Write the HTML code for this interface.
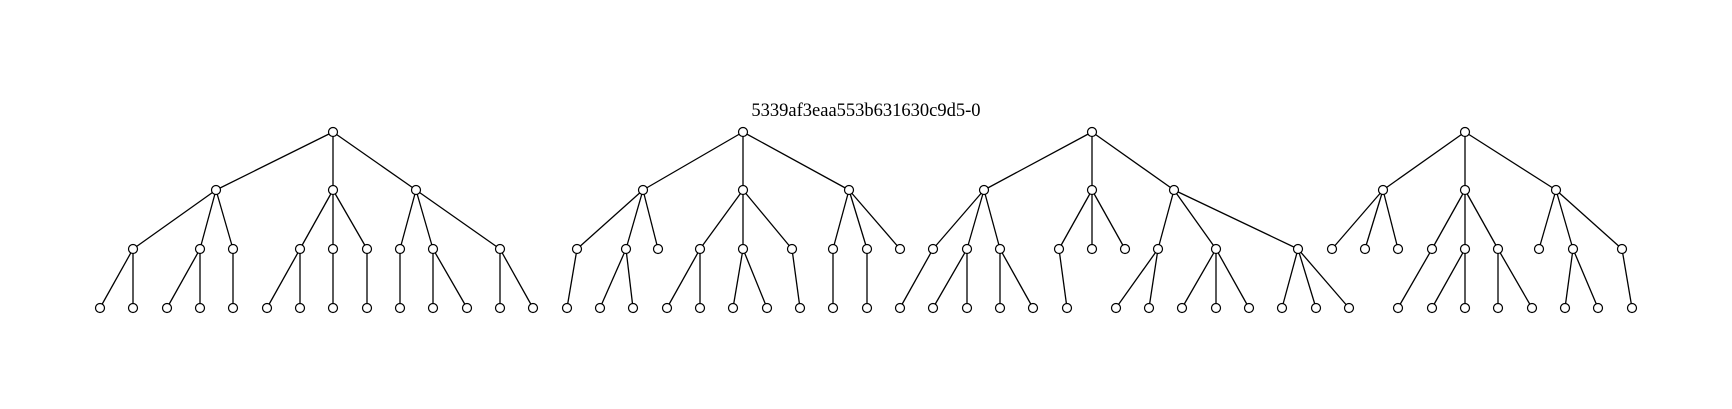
<!DOCTYPE html>
<html><head><meta charset="utf-8"><style>html,body{margin:0;padding:0;background:#fff;}svg{display:block}</style></head>
<body>
<svg id="s" width="1732" height="409" viewBox="0 0 1732 409" xmlns="http://www.w3.org/2000/svg">
<rect width="1732" height="409" fill="#fff"/>
<text x="866" y="116" text-anchor="middle" font-family="Liberation Serif, serif" font-size="18.5" fill="#000">5339af3eaa553b631630c9d5-0</text>
<g id="e" stroke="#000" stroke-width="1.3"></g>
<g id="n" stroke="#000" stroke-width="1.2" fill="#fff"></g>
</svg>
<script>
var Y=[132,190,249,308];
var T=[
 [333,[[216,[[133,[100,133]],[200,[167,200]],[233,[233]]]],[333,[[300,[267,300]],[333,[333]],[367,[367]]]],[416,[[400,[400]],[433,[433,467]],[500,[500,533]]]]]],
 [743,[[643,[[577,[567]],[626,[600,633]],[658,[]]]],[743,[[700,[667,700]],[743,[733,767]],[792,[800]]]],[849,[[833,[833]],[867,[867]],[900,[]]]]]],
 [1092,[[984,[[933,[900]],[967,[933,967]],[1000,[1000,1033]]]],[1092,[[1059,[1067]],[1092,[]],[1125,[]]]],[1174,[[1158,[1116,1149]],[1216,[1182,1216,1249]],[1298,[1282,1316,1349]]]]]],
 [1465,[[1383,[[1332,[]],[1365,[]],[1398,[]]]],[1465,[[1432,[1398]],[1465,[1432,1465]],[1498,[1498,1532]]]],[1556,[[1539,[]],[1573,[1565,1598]],[1622,[1632]]]]]]
];
var NS="http://www.w3.org/2000/svg",E=document.getElementById('e'),N=document.getElementById('n');
function ln(a,b,c,d){var l=document.createElementNS(NS,'line');l.setAttribute('x1',a);l.setAttribute('y1',b);l.setAttribute('x2',c);l.setAttribute('y2',d);E.appendChild(l);}
function ci(x,y){var c=document.createElementNS(NS,'circle');c.setAttribute('cx',x);c.setAttribute('cy',y);c.setAttribute('r',4.5);N.appendChild(c);}
T.forEach(function(t){ci(t[0],Y[0]);t[1].forEach(function(a){ln(t[0],Y[0],a[0],Y[1]);ci(a[0],Y[1]);a[1].forEach(function(b){ln(a[0],Y[1],b[0],Y[2]);ci(b[0],Y[2]);b[1].forEach(function(c){ln(b[0],Y[2],c,Y[3]);ci(c,Y[3]);});});});});
</script>
</body></html>
